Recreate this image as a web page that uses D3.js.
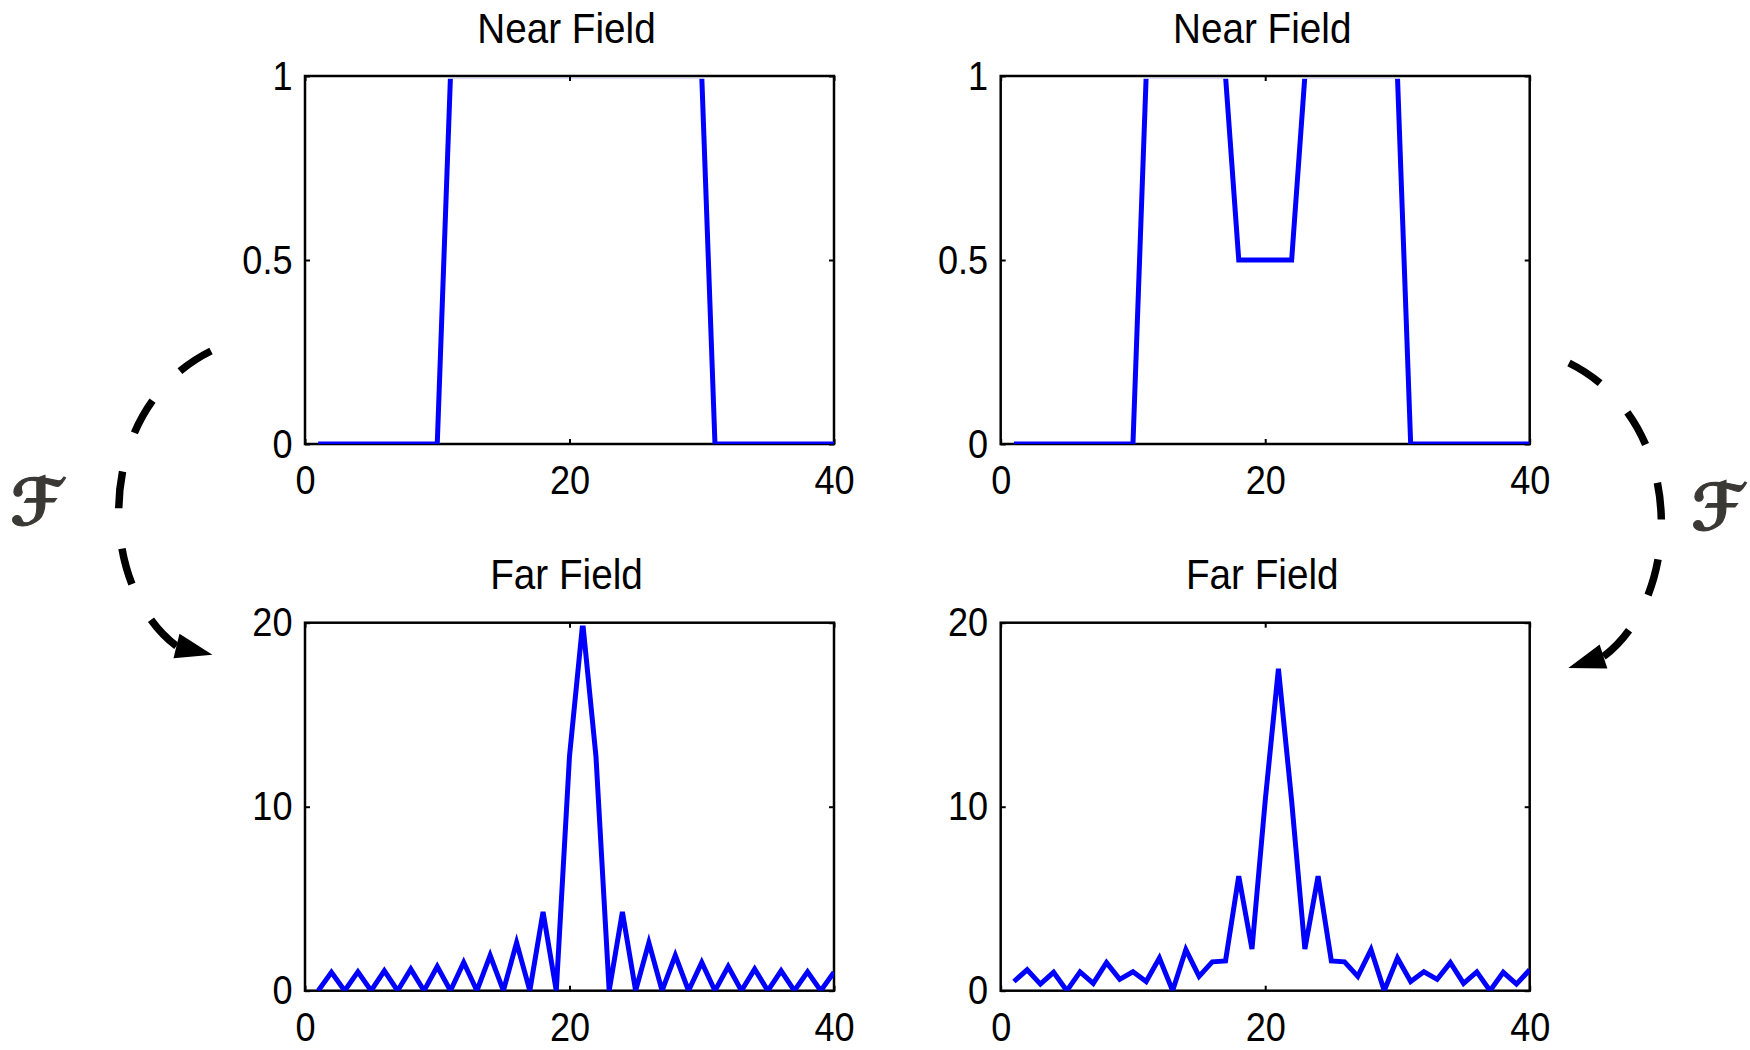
<!DOCTYPE html>
<html>
<head>
<meta charset="utf-8">
<script src="https://cdn.jsdelivr.net/npm/d3@7"></script>
<style>
  body { margin: 0; background: #fff; }
  svg { display: block; }
</style>
</head>
<body>
<svg id="fig" width="1750" height="1050"></svg>
<script>
let svg = d3.select("#fig");

// sample index n = 1..40
let samples = d3.range(1, 41);

// near field: plain slit, and slit with a half-transmitting strip
let nearSlit = [0,0,0,0,0,0,0,0,0,0, 1,1,1,1,1,1,1,1,1,1, 1,1,1,1,1,1,1,1,1,1, 0,0,0,0,0,0,0,0,0,0];
let nearMasked = [0,0,0,0,0,0,0,0,0,0, 1,1,1,1,1,1,1, 0.5,0.5,0.5,0.5,0.5, 1,1,1,1,1,1,1,1, 0,0,0,0,0,0,0,0,0,0];

// far field magnitudes
let farSlit = [0, 1.003, 0, 1.028, 0, 1.082, 0, 1.173, 0, 1.315, 0, 1.540, 0, 1.914, 0, 2.613, 0, 4.284, 0, 12.745,
    20, 12.745, 0, 4.284, 0, 2.613, 0, 1.914, 0, 1.540, 0, 1.315, 0, 1.173, 0, 1.082, 0, 1.028, 0, 1.003];
let farMasked = [0.5, 1.137, 0.358, 1.001, 0, 1.021, 0.397, 1.528, 0.618, 1.030, 0.5, 1.774, 0, 2.234, 0.779, 1.568, 1.618, 6.225, 2.260, 10.316,
    17.5, 10.316, 2.260, 6.225, 1.618, 1.568, 0.779, 2.234, 0, 1.774, 0.5, 1.030, 0.618, 1.528, 0.397, 1.021, 0, 1.001, 0.358, 1.137];

// ticks
let xTicks = [0, 20, 40];
let nearTicks = [0, 0.5, 1];
let farTicks = [0, 10, 20];

let titles = ["Near Field", "Far Field"];

// layout
const W = 529, H = 368;
const FONT = "'Liberation Sans', Arial, sans-serif";
let fmt = d3.format("~g");

function panel(id, px, py, values, yMax, yTicks, title) {
    let g = svg.append("g").attr("transform", `translate(${px},${py})`);
    let x = d3.scaleLinear().domain([0, 40]).range([0, W]);
    let y = d3.scaleLinear().domain([0, yMax]).range([H, 0]);

    // box
    g.append("rect")
        .attr("width", W).attr("height", H)
        .attr("fill", "none").attr("stroke", "#000").attr("stroke-width", 2.5);

    // ticks on all four sides, pointing in
    let axes = [
        [d3.axisBottom(x).tickValues(xTicks).tickFormat(fmt).tickPadding(20.5), `translate(0,${H})`],
        [d3.axisTop(x).tickValues(xTicks).tickFormat(""), null],
        [d3.axisLeft(y).tickValues(yTicks).tickFormat(fmt).tickPadding(14.4), null],
        [d3.axisRight(y).tickValues(yTicks).tickFormat(""), `translate(${W},0)`]
    ];
    axes.forEach(a => {
        let ag = g.append("g");
        if (a[1]) ag.attr("transform", a[1]);
        ag.call(a[0].tickSizeInner(-5).tickSizeOuter(0));
        ag.attr("font-family", FONT).attr("font-size", 41.5);
        ag.select(".domain").remove();
        ag.selectAll("line").attr("stroke", "#000").attr("stroke-width", 2);
        ag.selectAll("text").attr("fill", "#000").attr("transform", "scale(0.87,1)");
    });

    // clip so the curve sits inside the frame
    svg.append("clipPath").attr("id", "clip-" + id)
        .append("rect")
        .attr("x", 0).attr("y", 2.7)
        .attr("width", W).attr("height", H - 2.7);

    let line = d3.line()
        .x((d, i) => x(samples[i]))
        .y(d => y(d));

    g.append("path")
        .datum(values)
        .attr("clip-path", `url(#clip-${id})`)
        .attr("d", line)
        .attr("fill", "none")
        .attr("stroke", "#0000ff")
        .attr("stroke-width", 5);

    g.append("text")
        .attr("transform", `translate(${W / 2 - 3},${-33.3}) scale(0.9,1)`)
        .attr("text-anchor", "middle")
        .attr("font-family", FONT)
        .attr("font-size", 43)
        .attr("fill", "#000")
        .text(title);
}

panel("tl", 305, 76, nearSlit, 1, nearTicks, titles[0]);
panel("tr", 1000.7, 76, nearMasked, 1, nearTicks, titles[0]);
panel("bl", 305, 622.7, farSlit, 20, farTicks, titles[1]);
panel("br", 1000.7, 622.7, farMasked, 20, farTicks, titles[1]);

// dashed curved arrows
function arrow(p0, p1, p2, p3, dir) {
    let p = d3.path();
    p.moveTo(p0[0], p0[1]);
    p.bezierCurveTo(p1[0], p1[1], p2[0], p2[1], p3[0], p3[1]);
    let el = svg.append("path")
        .attr("d", p.toString())
        .attr("fill", "none")
        .attr("stroke", "#000")
        .attr("stroke-width", 7.5);
    let L = el.node().getTotalLength();
    let dash = 37, gap = (L - 5 * dash) / 4;
    el.attr("stroke-dasharray", `${dash} ${gap}`);

    let len = Math.hypot(dir[0], dir[1]);
    let ux = dir[0] / len, uy = dir[1] / len;
    let tip = [p3[0] + 37 * ux, p3[1] + 37 * uy];
    let c1 = [p3[0] - 12.5 * uy, p3[1] + 12.5 * ux];
    let c2 = [p3[0] + 12.5 * uy, p3[1] - 12.5 * ux];
    svg.append("path")
        .attr("d", `M${tip}L${c1}L${c2}Z`)
        .attr("fill", "#000");
}

arrow([211, 351], [92, 410], [96.5, 586], [176.5, 646], [36.5, 9]);
arrow([1569, 363], [1688, 422], [1683.5, 596.5], [1603.5, 656.5], [-35.5, 11.5]);

// Fourier transform symbols
[[36, 503], [1717, 508]].forEach(c => {
    svg.append("text")
        .attr("x", c[0]).attr("y", c[1])
        .attr("text-anchor", "middle")
        .attr("dominant-baseline", "central")
        .attr("font-family", "'DejaVu Sans', sans-serif")
        .attr("font-weight", "bold")
        .attr("font-style", "italic")
        .attr("font-size", 64)
        .attr("fill", "#3b3935")
        .attr("stroke", "#3b3935")
        .attr("stroke-width", 1.2)
        .text("\u2131");
});
</script>
</body>
</html>
